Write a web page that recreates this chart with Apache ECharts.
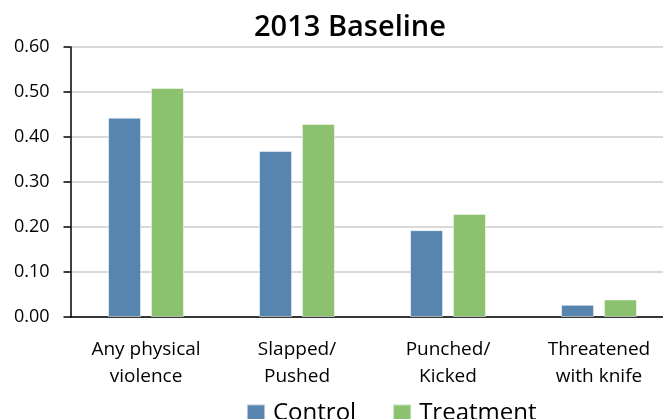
<!DOCTYPE html>
<html>
<head>
<meta charset="utf-8">
<script src="https://cdn.jsdelivr.net/npm/echarts@6/dist/echarts.min.js"></script>
<style>
  html, body { margin: 0; padding: 0; background: #fff; }
  #chart { width: 663px; height: 419px; }
</style>
</head>
<body>
<div id="chart"></div>
<script>
// values
const categories = ["Any physical\nviolence", "Slapped/\nPushed", "Punched/\nKicked", "Threatened\nwith knife"];
const controlValues = [0.443, 0.369, 0.193, 0.027];
const treatmentValues = [0.509, 0.429, 0.229, 0.039];
const seriesNames = ["Control", "Treatment"];

const font = "Open Sans";
const chart = echarts.init(document.getElementById("chart"));

const option = {
  animation: false,
  textStyle: { fontFamily: font },
  title: {
    text: "2013 Baseline",
    left: 345,
    top: 8,
    textAlign: "center",
    textStyle: { fontFamily: font, fontSize: 29, fontWeight: 600, color: "#000" },
  },
  legend: {
    data: seriesNames,
    left: 241,
    top: 396,
    itemWidth: 18,
    itemHeight: 17,
    itemGap: 36,
    icon: "rect",
    textStyle: { fontFamily: font, fontSize: 24, color: "#000", padding: [0, 0, 0, 3] },
  },
  // plot runs past the right edge in the reference, so fix its width
  grid: {
    left: 70.5,
    width: 604,
    top: 47,
    bottom: 102,
    outerBoundsMode: "none",
  },
  xAxis: {
    type: "category",
    data: categories,
    axisLine: { lineStyle: { color: "#000", width: 1.5 } },
    axisTick: { show: false },
    axisLabel: {
      color: "#000",
      fontFamily: font,
      fontSize: 19,
      lineHeight: 27,
      margin: 19,
      interval: 0,
    },
  },
  yAxis: {
    type: "value",
    min: 0,
    max: 0.6,
    interval: 0.1,
    axisLine: { show: true, lineStyle: { color: "#000", width: 1.5 } },
    axisTick: { show: true, length: 7, lineStyle: { color: "#000", width: 1.5 } },
    axisLabel: {
      color: "#000",
      fontFamily: font,
      fontSize: 18,
      margin: 21,
      formatter: (v) => v.toFixed(2),
    },
    splitLine: { lineStyle: { color: "#d9d9d9", width: 2 } },
  },
  series: [
    {
      name: seriesNames[0],
      type: "bar",
      data: controlValues,
      barWidth: 33,
      barGap: "30%",
      itemStyle: { color: "#5885b0", borderColor: "rgba(255,255,255,0.5)", borderWidth: 1 },
    },
    {
      name: seriesNames[1],
      type: "bar",
      data: treatmentValues,
      barWidth: 33,
      barGap: "30%",
      itemStyle: { color: "#8cc26f", borderColor: "rgba(255,255,255,0.5)", borderWidth: 1 },
    },
  ],
};

chart.setOption(option);
</script>
</body>
</html>
